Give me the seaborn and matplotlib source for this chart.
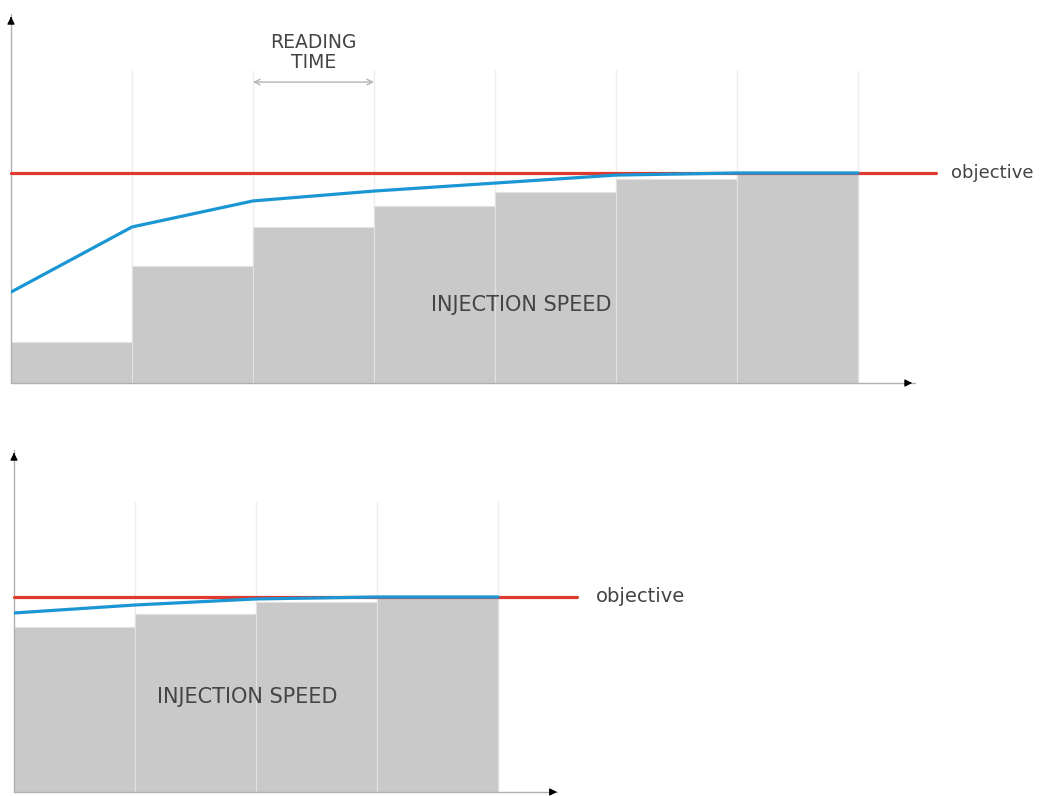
import numpy as np
import pandas as pd
import matplotlib
matplotlib.use("Agg")
import matplotlib.pyplot as plt
import seaborn as sns

# values, objective = 100
objective = 100

# top panel: 7 reading periods
top_step_x = [0.5, 1.5, 2.5, 3.5, 4.5, 5.5, 6.5]
top_speed = [19.5, 55.7, 74.3, 84.3, 91.0, 97.0, 99.5]
top_resp_x = [0, 1, 2, 3, 4, 5, 6, 7]
top_response = [43.3, 74.3, 86.7, 91.4, 95.2, 99.0, 100.0, 100.0]

# bottom panel: 4 reading periods
bot_step_x = [0.5, 1.5, 2.5, 3.5]
bot_speed = [84.6, 91.3, 97.4, 99.5]
bot_resp_x = [0, 1, 2, 3, 4]
bot_response = [91.8, 95.9, 99.0, 100.0, 100.0]

gray = "#c9c9c9"
red = "#e0392e"
blue = "#1b96d4"
txt = "#444444"

sns.set_theme(style="white")
plt.rcParams['font.family'] = ['DejaVu Sans']

W, H = 1041, 796
fig = plt.figure(figsize=(W / 100, H / 100), dpi=100)

def make_ax(x0, y_top, x1, y_bot):
    return fig.add_axes([x0 / W, (H - y_bot) / H, (x1 - x0) / W, (y_bot - y_top) / H])

def draw_panel(ax, step_x, speed, resp_x, resp, xmax, ymax, obj_end, label_xy,
               obj_size=14, obj_gap=0.16):
    df = pd.DataFrame({"t": step_x, "speed": speed})
    sns.barplot(data=df, x="t", y="speed", native_scale=True, width=1.0,
                color=gray, saturation=1, edgecolor="#e2e2e2", linewidth=0.8, ax=ax)
    # thin reading-period separators
    ax.vlines(resp_x[1:], 0, 149, color="#eeeeee", lw=1, zorder=0.5)
    # objective
    ax.plot([0, obj_end], [objective, objective], color=red, lw=2.3,
            clip_on=False, zorder=3)
    sns.lineplot(x=resp_x, y=resp, color=blue, lw=2.3, ax=ax, zorder=4)
    ax.text(obj_end + obj_gap, objective, "objective", color=txt, fontsize=obj_size,
            va="center", ha="left")
    ax.text(label_xy[0], label_xy[1], "INJECTION SPEED", color=txt,
            fontsize=15, ha="center", va="center", zorder=5)
    ax.set_xlim(0, xmax)
    ax.set_ylim(0, ymax)
    ax.set_axis_off()
    # axes drawn as arrows
    ax.plot([0, 1], [0, 0], transform=ax.transAxes, color="#b0b0b0", lw=1,
            clip_on=False)
    ax.plot([0, 0], [0, 1], transform=ax.transAxes, color="#b0b0b0", lw=1,
            clip_on=False)
    head = dict(arrowstyle="-|>", color="black", lw=0.8, mutation_scale=11)
    ax.annotate("", xy=(1, 0), xytext=(0.99, 0), xycoords="axes fraction",
                arrowprops=head)
    ax.annotate("", xy=(0, 1), xytext=(0, 0.98), xycoords="axes fraction",
                arrowprops=head)

ax1 = make_ax(11, 14, 915, 383)
draw_panel(ax1, top_step_x, top_speed, top_resp_x, top_response,
           (915 - 11) / 121, 369 / 2.1, (936 - 11) / 121, (4.22, 37),
           obj_size=13, obj_gap=0.12)
# reading time annotation
ax1.annotate("", xy=(2, 143.3), xytext=(3, 143.3),
             arrowprops=dict(arrowstyle="<->", color="#b5b5b5", lw=1,
                             mutation_scale=10, shrinkA=0, shrinkB=0))
ax1.text(2.5, 157.5, "READING\nTIME", color=txt, fontsize=13.5, ha="center",
         va="center", linespacing=1.05)

ax2 = make_ax(14, 450, 557, 792)
draw_panel(ax2, bot_step_x, bot_speed, bot_resp_x, bot_response,
           (557 - 14) / 121, 342 / 1.95, (577 - 14) / 121, (1.93, 48.7))

fig.savefig("out.png", dpi=100)
